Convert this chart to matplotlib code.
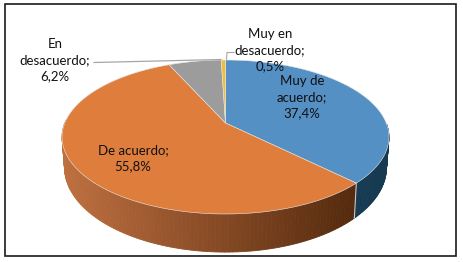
import numpy as np
import matplotlib
matplotlib.use("Agg")
import matplotlib.pyplot as plt
from matplotlib.patches import Polygon, Rectangle

categories = ["Muy de acuerdo", "De acuerdo", "En desacuerdo", "Muy en desacuerdo"]
values = [37.4, 55.8, 6.2, 0.5]
labels = ["Muy de\nacuerdo;\n37,4%", "De acuerdo;\n55,8%", "En\ndesacuerdo;\n6,2%", "Muy en\ndesacuerdo;\n0,5%"]
top_colors = ["#5590C5", "#DF7E3C", "#9C9C9C", "#F2BD3A"]
side_left = ["#1A4560", "#BF7040", "#777777", "#A08020"]
side_right = ["#163A52", "#552A0E", "#555555", "#806010"]

plt.rcParams["font.family"] = "Lato"
fig = plt.figure(figsize=(4.63, 2.62), dpi=100)
ax = fig.add_axes([0, 0, 1, 1])
ax.set_xlim(0, 463)
ax.set_ylim(262, 0)
ax.axis("off")

CX, CY, SX, SY, K = 225.5, 123.0, 160.7, 74.45, 0.1818
DEPTH_Y, DEPTH_SX, DEPTH_SY = 29.0, 0.985, 1.10


def rim(frac, lower=False):
    a = 2 * np.pi * np.asarray(frac)
    x, y = np.sin(a), np.cos(a)
    d = 1 + K * y
    u, v = SX * x / d, -SY * y / d
    if lower:
        return CX + u * DEPTH_SX, CY + DEPTH_Y + v * DEPTH_SY
    return CX + u, CY + v


total = sum(values)
edges = np.concatenate([[0], np.cumsum(values)]) / total

# side wall (only front-facing part is visible)
for i in range(len(values)):
    fr = np.linspace(edges[i], edges[i + 1], 160)
    vis = fr[(fr > 0.25) & (fr < 0.76)]
    if len(vis) < 2:
        continue
    for f0, f1 in zip(vis[:-1], vis[1:]):
        x0, y0 = rim(f0)
        x1, y1 = rim(f1)
        x2, y2 = rim(f1, True)
        x3, y3 = rim(f0, True)
        t = np.clip((x0 - 62) / (355 - 62), 0, 1)
        c0 = np.array(matplotlib.colors.to_rgb(side_left[i]))
        c1 = np.array(matplotlib.colors.to_rgb(side_right[i]))
        col = c0 + (c1 - c0) * t
        ax.add_patch(Polygon([(x0, y0), (x1, y1), (x2, y2), (x3, y3)],
                             closed=True, fc=col, ec=col, lw=0.6, zorder=2))

# wall seam at the blue/orange boundary
xs, ys = rim(edges[1])
xl, yl = rim(edges[1], True)
ax.plot([xs, xl], [ys, yl], color="#C8C8C8", lw=0.8, zorder=3)

# top faces
for i in range(len(values)):
    fr = np.linspace(edges[i], edges[i + 1], 200)
    px, py = rim(fr)
    pts = [(CX, CY)] + list(zip(px, py))
    ax.add_patch(Polygon(pts, closed=True, fc=top_colors[i], ec="#E4E4E4", lw=0.4, zorder=4))

# leader lines
ax.plot([94, 221], [62.5, 59.5], color="#A6A6A6", lw=0.9, zorder=5)
ax.plot([226.5, 227, 234], [59, 52.5, 52.5], color="#A6A6A6", lw=0.8, zorder=5)

# labels
pos = [(302, 97), (133, 158.5), (55, 60), (270, 50)]
for lab, (x, y) in zip(labels, pos):
    ax.text(x, y, lab, ha="center", va="center", fontsize=9.5, color="#101010",
            linespacing=1.42, zorder=6)

# frame
ax.add_patch(Rectangle((4.5, 4.2), 451, 251.6, fc="none", ec="#1A1A1A", lw=1.2, zorder=7))

fig.savefig("out.png", dpi=100, facecolor="white")
